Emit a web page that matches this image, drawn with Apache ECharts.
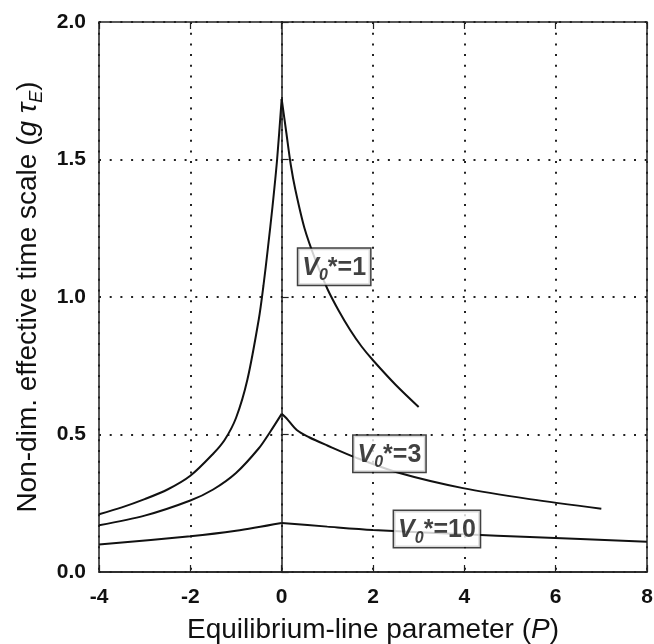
<!DOCTYPE html>
<html>
<head>
<meta charset="utf-8">
<script src="https://cdn.jsdelivr.net/npm/echarts@6/dist/echarts.min.js"></script>
<style>
html,body{margin:0;padding:0;background:#fff;}
#chart{width:654px;height:644px;}
</style>
</head>
<body>
<div id="chart"></div>
<script>
// x ticks / y ticks
const xTicks = [-4, -2, 0, 2, 4, 6, 8];
const yTicks = [0, 0.5, 1.0, 1.5, 2.0];

// V0* = 1
const p1 = [-4, -3.5, -3, -2.5, -2, -1.5, -1.25, -1, -0.75, -0.5, -0.4, -0.3, -0.2, -0.1, 0,
            0.1, 0.2, 0.3, 0.5, 0.75, 1, 1.25, 1.5, 1.75, 2, 2.5, 3];
const v1 = [0.21, 0.235, 0.265, 0.30, 0.35, 0.43, 0.48, 0.56, 0.70, 0.92, 1.04, 1.18, 1.33, 1.5, 1.72,
            1.6, 1.48, 1.39, 1.25, 1.13, 1.03, 0.95, 0.88, 0.82, 0.77, 0.68, 0.60];

// V0* = 3
const p2 = [-4, -3, -2, -1.5, -1, -0.5, -0.25, 0, 0.1, 0.33, 0.6, 1, 1.64, 2.58, 3.97, 5.43, 7];
const v2 = [0.17, 0.205, 0.26, 0.30, 0.36, 0.45, 0.51, 0.575, 0.56, 0.516, 0.49, 0.46, 0.415, 0.36, 0.305, 0.265, 0.23];

// V0* = 10
const p3 = [-4, -2, -1, 0, 1, 2, 4, 5.43, 8];
const v3 = [0.10, 0.13, 0.15, 0.178, 0.165, 0.153, 0.137, 0.127, 0.11];

// curve labels: [P, value] anchor and text
const labelNames = ['1', '3', '10'];
const labelP = [1.15, 2.36, 3.4];
const labelV = [1.11, 0.43, 0.156];

const zip = (xs, ys) => xs.map((x, i) => [x, ys[i]]);
// split a curve at its peak so each branch is smoothed separately (keeps the cusp)
const branches = (xs, ys) => {
  const k = ys.indexOf(Math.max(...ys));
  const pts = zip(xs, ys);
  return [pts.slice(0, k + 1), pts.slice(k)];
};

const chart = echarts.init(document.getElementById('chart'), null, {renderer: 'canvas'});

const font = '"Liberation Sans", Arial, sans-serif';
const lineStyle = {color: '#111', width: 2};
const gridDots = {show: true, lineStyle: {color: '#222', width: 2, type: [2, 8.7]}};

const curve = (data) => ({
  type: 'line', data: data, showSymbol: false, symbol: 'none', smooth: 0.3,
  lineStyle: lineStyle, z: 3, animation: false
});

const labelSeries = {
  type: 'scatter',
  symbolSize: 0,
  z: 5,
  animation: false,
  data: labelNames.map((n, i) => ({value: [labelP[i], labelV[i]], name: n})),
  label: {
    show: true,
    position: 'inside',
    formatter: (p) => '{v|V}{s|0}{t|*=' + p.name + '}',
    backgroundColor: '#fff',
    borderColor: '#111',
    borderWidth: 1.5,
    padding: [3, 4, 1, 4],
    rich: {
      v: {fontFamily: font, fontWeight: 'bold', fontStyle: 'italic', fontSize: 25, color: '#111', lineHeight: 32, verticalAlign: 'middle'},
      s: {fontFamily: font, fontWeight: 'bold', fontStyle: 'italic', fontSize: 16, color: '#111', lineHeight: 16, verticalAlign: 'bottom'},
      t: {fontFamily: font, fontWeight: 'bold', fontSize: 25, color: '#111', lineHeight: 32, verticalAlign: 'middle'}
    }
  }
};

const series = [];
[branches(p1, v1), branches(p2, v2), branches(p3, v3)].forEach(b => {
  series.push(curve(b[0]));
  series.push(curve(b[1]));
});
series.push(labelSeries);

const option = {
  backgroundColor: '#fff',
  animation: false,
  grid: {left: 99, right: 7, top: 22, bottom: 72, outerBoundsMode: 'none', containLabel: false,
    show: true, borderColor: '#222', borderWidth: 1.5, backgroundColor: 'transparent'},
  xAxis: [{
    type: 'value', min: -4, max: 8, interval: 2,
    axisLine: {show: true, lineStyle: {color: '#222', width: 1.5}},
    axisTick: {show: true, inside: true, length: 7, lineStyle: {color: '#222', width: 1.2}},
    axisLabel: {fontFamily: font, fontWeight: 'bold', fontSize: 21, color: '#111', margin: 15,
      formatter: (v) => xTicks.includes(v) ? String(v) : ''},
    splitLine: gridDots,
    name: 'Equilibrium-line parameter ({i|P})',
    nameLocation: 'middle', nameGap: 44,
    nameTextStyle: {fontFamily: font, fontSize: 28, color: '#111',
      rich: {i: {fontFamily: font, fontSize: 28, fontStyle: 'italic', color: '#111'}}}
  }, {
    type: 'value', min: -4, max: 8, interval: 2, position: 'top',
    axisLine: {show: false},
    axisTick: {show: true, inside: true, length: 7, lineStyle: {color: '#222', width: 1.2}},
    axisLabel: {show: false}, splitLine: {show: false}
  }],
  yAxis: [{
    type: 'value', min: 0, max: 2, interval: 0.5,
    axisLine: {show: true, lineStyle: {color: '#222', width: 1.5}},
    axisTick: {show: true, inside: true, length: 7, lineStyle: {color: '#222', width: 1.2}},
    axisLabel: {fontFamily: font, fontWeight: 'bold', fontSize: 21, color: '#111', margin: 13,
      formatter: (v) => yTicks.includes(v) ? v.toFixed(1) : ''},
    splitLine: gridDots,
    name: 'Non-dim. effective time scale ({i|g τ}{sub|E})',
    nameLocation: 'middle', nameGap: 58, nameRotate: 90,
    nameTextStyle: {fontFamily: font, fontSize: 28, color: '#111', lineHeight: 36, verticalAlign: 'middle',
      rich: {
        i: {fontFamily: font, fontSize: 28, fontStyle: 'italic', color: '#111', lineHeight: 36, verticalAlign: 'middle'},
        sub: {fontFamily: font, fontSize: 18, fontStyle: 'italic', color: '#111', lineHeight: 18, verticalAlign: 'bottom'}
      }}
  }],
  series: series
};

chart.setOption(option);
</script>
</body>
</html>
